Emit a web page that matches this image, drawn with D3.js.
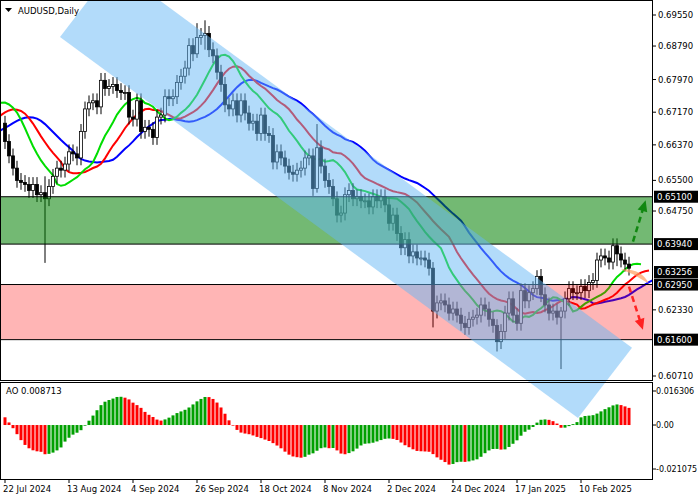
<!DOCTYPE html>
<html><head><meta charset="utf-8">
<script src="https://cdn.jsdelivr.net/npm/d3@7"></script>
<style>body{margin:0;background:#fff}text{font-family:"DejaVu Sans",sans-serif;font-size:8.5px}</style>
</head><body><svg id="c" width="700" height="500"></svg>
<script>
// Historia anterior (nao desenhada), usada nos indicadores.
const history = [0.6640,0.6650,0.6620,0.6630,0.6650,0.6665,0.6655,0.6655,0.6670,0.6585,
  0.6610,0.6610,0.6650,0.6615,0.6620,0.6655,0.6670,0.6660,0.6640,0.6640,
  0.6660,0.6665,0.6650,0.6645,0.6655,0.6625,0.6665,0.6705,0.6745,0.6740,
  0.6745,0.6750,0.6740,0.6760,0.6770,0.6755,0.6755,0.6730,0.6705,0.6690];
// Fechamentos diarios, 22 Jul 2024 .. 26 Feb 2025
const closes = [
  0.6645,0.6610,0.6580,0.6550,0.6545, 0.6540,0.6525,0.6540,0.6515,0.6520,
  0.6505,0.6535,0.6560,0.6580,0.6575, 0.6590,0.6620,0.6615,0.6605,0.6670,
  0.6725,0.6740,0.6745,0.6730,0.6795, 0.6775,0.6780,0.6785,0.6770,0.6765,
  0.6765,0.6705,0.6700,0.6745,0.6670, 0.6680,0.6675,0.6655,0.6705,0.6710,
  0.6755,0.6750,0.6755,0.6790,0.6805, 0.6825,0.6880,0.6860,0.6900,0.6905,
  0.6910,0.6870,0.6855,0.6815,0.6785, 0.6735,0.6725,0.6745,0.6710,0.6745,
  0.6715,0.6690,0.6695,0.6665,0.6710, 0.6665,0.6660,0.6595,0.6620,0.6605,
  0.6585,0.6570,0.6565,0.6575,0.6580, 0.6605,0.6610,0.6530,0.6630,0.6585,
  0.6550,0.6535,0.6505,0.6465,0.6470, 0.6515,0.6525,0.6505,0.6510,0.6500,
  0.6500,0.6485,0.6510,0.6500,0.6510, 0.6490,0.6445,0.6465,0.6420,0.6385,
  0.6405,0.6365,0.6375,0.6360,0.6360, 0.6355,0.6335,0.6230,0.6250,0.6255,
  0.6245,0.6225,0.6235,0.6220, 0.6200,0.6190,0.6210,0.6215,0.6220,
  0.6245,0.6235,0.6210,0.6195,0.6155, 0.6180,0.6225,0.6260,0.6220,0.6200,
  0.6280,0.6255,0.6275,0.6285,0.6315, 0.6270,0.6245,0.6225,0.6230,0.6215,
  0.6230,0.6260,0.6285,0.6275,0.6275, 0.6290,0.6280,0.6300,0.6305,0.6355,
  0.6365,0.6360,0.6350,0.6390,0.6370, 0.6355,0.6345,0.6335];
const wick = 0.0018;
// Pavios especiais: indice -> [maxima, minima]
const extremes = {10:[0.6560,0.6348], 50:[0.6942,0.6870], 48:[0.6935,0.6850], 78:[0.6688,0.6520],
  107:[0.6350,0.6190], 123:[0.6210,0.6131], 133:[0.6330,0.6270], 139:[0.6240,0.6088], 153:[0.6408,0.6340]};
const xLabels = ["22 Jul 2024","13 Aug 2024","4 Sep 2024","26 Sep 2024","18 Oct 2024","8 Nov 2024","2 Dec 2024","24 Dec 2024","17 Jan 2025","10 Feb 2025"];
const priceTicks = [0.69550,0.68790,0.67970,0.67170,0.66370,0.65500,0.64750,0.62330,0.60710];
const boxLevels = [0.65100,0.63940,0.63256,0.62950,0.61600];
const greenZone = [0.6394,0.6510], redZone = [0.6160,0.6295];
const channel = [[13.75,0.6901],[27.25,0.7073],[156.75,0.6140],[143.25,0.5968]];
const aoTicks = [0.016306,0,-0.021075];

const svg = d3.select('#c'), W = 652, mainB = 380, aoT = 382, aoB = 479;
const all = history.concat(closes), H0 = history.length;
const bars = all.map(function (c, i) {
  const o = i ? all[i - 1] : c;
  const e = extremes[i - H0];
  return {o: o, c: c, h: e ? e[0] : Math.max(o, c) + wick, l: e ? e[1] : Math.min(o, c) - wick};
});
const med = bars.map(d => (d.h + d.l) / 2);
function smma(n) {
  const r = []; let s = null;
  med.forEach(function (v, i) {
    if (i < n - 1) { r.push(null); return; }
    s = s === null ? d3.mean(med.slice(0, n)) : (s * (n - 1) + v) / n; r.push(s);
  });
  return r;
}
function sma(n) { return med.map((v, i) => i < n - 1 ? null : d3.mean(med.slice(i - n + 1, i + 1))); }
const sma5 = sma(5), sma34 = sma(34);
const aoVals = sma5.map((v, i) => sma34[i] === null ? null : v - sma34[i]);

const x = i => 5 + 4 * (i - H0);
const y = d3.scaleLinear().domain([0.6071, 0.6955]).range([376, 15]);
const ya = d3.scaleLinear().domain([-0.021075, 0.016306]).range([469, 391]);

svg.append('clipPath').attr('id', 'cm').append('rect').attr('width', W).attr('height', mainB);
svg.append('clipPath').attr('id', 'ca').append('rect').attr('width', W).attr('height', aoB);
const g = svg.append('g').attr('clip-path', 'url(#cm)');
const ga = svg.append('g').attr('clip-path', 'url(#ca)');

// Linhas do Alligator
[[13, 8, '#0000ff'], [8, 5, '#ff0000'], [5, 3, '#00dd00']].forEach(function (a) {
  const s = smma(a[0]);
  const pts = s.map((v, i) => [x(i + a[1]), v]).filter((p, i) => p[1] !== null && i >= H0 - a[1] - 2);
  g.append('path').attr('d', d3.line().x(p => p[0]).y(p => y(p[1]))(pts))
    .attr('fill', 'none').attr('stroke', a[2]).attr('stroke-width', 2);
});
// Velas
const cb = g.selectAll('.cd').data(bars.slice(H0)).enter().append('g');
cb.append('line').attr('x1', (d, i) => x(i + H0)).attr('x2', (d, i) => x(i + H0))
  .attr('y1', d => y(d.h)).attr('y2', d => y(d.l)).attr('stroke', '#000');
cb.append('rect').attr('x', (d, i) => x(i + H0) - 1.5).attr('width', 3)
  .attr('y', d => y(Math.max(d.o, d.c))).attr('height', d => Math.max(1, Math.abs(y(d.o) - y(d.c))))
  .attr('fill', d => d.c >= d.o ? '#fff' : '#000').attr('stroke', '#000').attr('stroke-width', 0.8);

// Zonas
[[greenZone, 'rgb(0,128,0)', 0.55], [redZone, 'rgb(255,0,0)', 0.29]].forEach(function (z) {
  g.append('rect').attr('x', 0).attr('width', W).attr('y', y(z[0][1])).attr('height', y(z[0][0]) - y(z[0][1]))
    .attr('fill', z[1]).attr('fill-opacity', z[2]);
});
[0.6510, 0.6394, 0.6295, 0.6160].forEach(v => g.append('line').attr('x1', 0).attr('x2', W)
  .attr('y1', y(v)).attr('y2', y(v)).attr('stroke', '#000'));

// Canal
ga.append('polygon').attr('points', channel.map(p => [x(p[0] + H0), y(p[1])].join(',')).join(' '))
  .attr('fill', '#66b8f5').attr('fill-opacity', 0.5);

// Setas
function arrow(p0, p1, col) {
  const a = [x(p0[0] + H0), y(p0[1])], b = [x(p1[0] + H0), y(p1[1])];
  g.append('line').attr('x1', a[0]).attr('y1', a[1]).attr('x2', b[0]).attr('y2', b[1])
    .attr('stroke', col).attr('stroke-width', 2.5).attr('stroke-dasharray', '6,4');
  const ang = Math.atan2(b[1] - a[1], b[0] - a[0]);
  const hp = [[9, 0], [-2, 5], [-2, -5]].map(q => [b[0] + q[0] * Math.cos(ang) - q[1] * Math.sin(ang), b[1] + q[0] * Math.sin(ang) + q[1] * Math.cos(ang)]);
  g.append('polygon').attr('points', hp.join(' ')).attr('fill', col);
}
arrow([157, 0.6400], [159.5, 0.6480], '#118811');
arrow([156, 0.6290], [158.8, 0.6205], '#ff2222');
g.append('path').attr('d', 'M' + x(H0 + 154) + ',' + y(0.6332) + 'Q' + x(H0 + 159) + ',' + y(0.6335) + ' ' + x(H0 + 161) + ',' + y(0.6297) + 'L' + x(H0 + 157) + ',' + y(0.6320) + 'Z')
  .attr('fill', '#ffa060').attr('fill-opacity', 0.7);

// AO
ga.selectAll('.ao').data(aoVals.slice(H0)).enter().append('rect')
  .attr('x', (d, i) => x(i + H0) - 1.5).attr('width', 3)
  .attr('y', d => Math.min(ya(d), ya(0))).attr('height', d => Math.abs(ya(d) - ya(0)))
  .attr('fill', (d, i) => d >= aoVals[i + H0 - 1] ? '#00a000' : '#ff0000');

// Molduras
svg.append('rect').attr('x', 0.5).attr('y', 0.5).attr('width', W).attr('height', mainB).attr('fill', 'none').attr('stroke', '#000');
svg.append('rect').attr('x', 0.5).attr('y', aoT + 0.5).attr('width', W).attr('height', aoB - aoT).attr('fill', 'none').attr('stroke', '#000');
svg.append('text').attr('x', 18).attr('y', 14).text('AUDUSD,Daily');
svg.append('path').attr('d', 'M5,8 L12,8 L8.5,12 Z').attr('fill', '#000');
svg.append('text').attr('x', 6).attr('y', 394).text('AO 0.008713');

// Eixo de preco
priceTicks.forEach(function (v) {
  svg.append('line').attr('x1', W).attr('x2', W + 4).attr('y1', y(v)).attr('y2', y(v)).attr('stroke', '#000');
  svg.append('text').attr('x', 658).attr('y', y(v) + 3).text(v.toFixed(5));
});
boxLevels.forEach(function (v) {
  svg.append('rect').attr('x', 654).attr('y', y(v) - 6).attr('width', 44).attr('height', 12).attr('fill', '#000');
  svg.append('text').attr('x', 657).attr('y', y(v) + 3).attr('fill', '#fff').text(v.toFixed(5));
});
aoTicks.forEach(function (v) {
  svg.append('line').attr('x1', W).attr('x2', W + 4).attr('y1', ya(v)).attr('y2', ya(v)).attr('stroke', '#000');
  svg.append('text').attr('x', 656).attr('y', ya(v) + 3).style('font-size', '8px').text(v === 0 ? '0.00' : v.toFixed(6));
});
// Eixo de tempo
xLabels.forEach(function (t, k) {
  const xx = x(H0 + 16 * k);
  svg.append('line').attr('x1', xx).attr('x2', xx).attr('y1', aoB).attr('y2', aoB + 4).attr('stroke', '#000');
  svg.append('text').attr('x', xx - 2).attr('y', 492).text(t);
});
</script></body></html>
